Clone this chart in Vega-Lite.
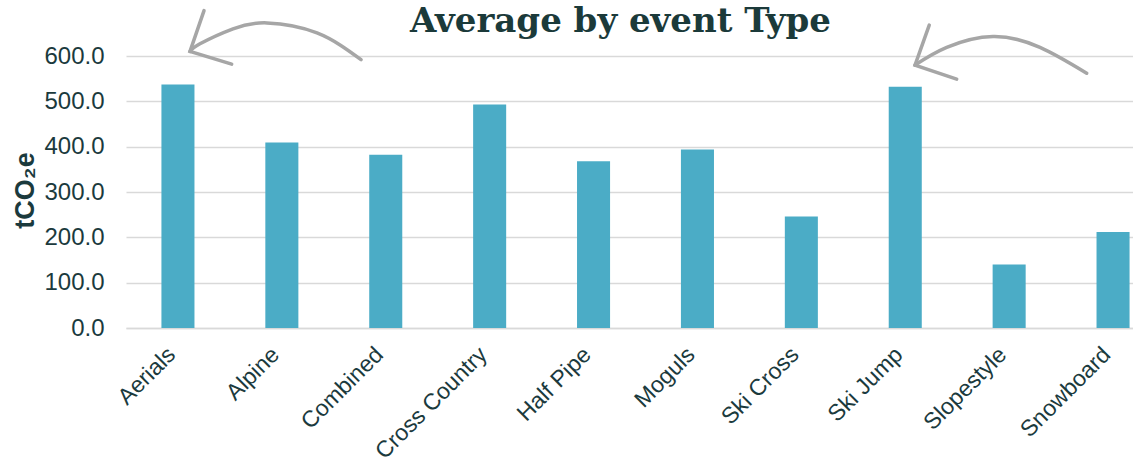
{
  "$schema": "https://vega.github.io/schema/vega-lite/v6.json",
  "width": 1039,
  "height": 272,
  "autosize": {"type": "none"},
  "padding": {"left": 126, "top": 56, "right": 0, "bottom": 135},
  "background": "white",
  "config": {
    "view": {"stroke": null},
    "font": "Liberation Sans"
  },
  "title": {
    "text": "Average by event Type",
    "font": "DejaVu Serif",
    "fontWeight": "bold",
    "fontSize": 34,
    "color": "#1b3a3a",
    "anchor": "middle",
    "dx": -25,
    "offset": -62,
    "baseline": "alphabetic"
  },
  "datasets": {
    "events": [
      {"event": "Aerials", "tco2e": 537},
      {"event": "Alpine", "tco2e": 409},
      {"event": "Combined", "tco2e": 382},
      {"event": "Cross Country", "tco2e": 493},
      {"event": "Half Pipe", "tco2e": 368},
      {"event": "Moguls", "tco2e": 394},
      {"event": "Ski Cross", "tco2e": 246},
      {"event": "Ski Jump", "tco2e": 532},
      {"event": "Slopestyle", "tco2e": 140},
      {"event": "Snowboard", "tco2e": 212}
    ],
    "curves": [
      {"arrow": "a1", "i": 0, "u": 0.616, "v": 610},
      {"arrow": "a1", "i": 1, "u": 0.712, "v": 627},
      {"arrow": "a1", "i": 2, "u": 1.030, "v": 660},
      {"arrow": "a1", "i": 3, "u": 1.357, "v": 673},
      {"arrow": "a1", "i": 4, "u": 1.838, "v": 651},
      {"arrow": "a1", "i": 5, "u": 2.262, "v": 592},
      {"arrow": "a2", "i": 0, "u": 7.594, "v": 580},
      {"arrow": "a2", "i": 1, "u": 7.899, "v": 619},
      {"arrow": "a2", "i": 2, "u": 8.345, "v": 643},
      {"arrow": "a2", "i": 3, "u": 8.797, "v": 619},
      {"arrow": "a2", "i": 4, "u": 9.246, "v": 562}
    ],
    "heads": [
      {"arrow": "a1", "i": 0, "u": 0.751, "v": 700},
      {"arrow": "a1", "i": 1, "u": 0.616, "v": 610},
      {"arrow": "a1", "i": 2, "u": 1.017, "v": 582},
      {"arrow": "a2", "i": 0, "u": 7.731, "v": 668},
      {"arrow": "a2", "i": 1, "u": 7.594, "v": 580},
      {"arrow": "a2", "i": 2, "u": 7.995, "v": 549}
    ]
  },
  "layer": [
    {
      "data": {"name": "events"},
      "mark": {"type": "bar", "color": "#4bacc6"},
      "encoding": {
        "x": {
          "field": "event",
          "type": "nominal",
          "sort": null,
          "scale": {"paddingInner": 0.682, "paddingOuter": 0.341},
          "axis": {
            "title": null,
            "labelAngle": -45,
            "labelFontSize": 23,
            "labelColor": "#1b3a3d",
            "labelPadding": 15,
            "labelOffset": -14,
            "ticks": false,
            "domain": true,
            "domainColor": "#d9d9d9",
            "domainWidth": 1.5,
            "grid": false
          }
        },
        "y": {
          "field": "tco2e",
          "type": "quantitative",
          "scale": {"domain": [0, 600], "nice": false},
          "axis": {
            "title": "tCO₂e",
            "titleFontSize": 27,
            "titleFontWeight": "bold",
            "titleColor": "#1b3a3d",
            "titleAngle": -90,
            "titleX": -101,
            "titleY": 134,
            "titleAlign": "center",
            "titleBaseline": "middle",
            "values": [0, 100, 200, 300, 400, 500, 600],
            "format": ".1f",
            "labelFontSize": 24,
            "labelColor": "#1b3a3d",
            "labelPadding": 22,
            "ticks": false,
            "domain": false,
            "grid": true,
            "gridColor": "#d9d9d9",
            "gridWidth": 1.5
          }
        }
      }
    },
    {
      "data": {"name": "curves"},
      "mark": {"type": "line", "interpolate": "natural", "color": "#a6a6a6", "strokeWidth": 3.5, "strokeCap": "round", "clip": false},
      "encoding": {
        "x": {"field": "u", "type": "quantitative", "scale": {"domain": [0, 10], "nice": false, "zero": false}, "axis": null},
        "y": {"field": "v", "type": "quantitative", "scale": {"domain": [0, 600], "nice": false}, "axis": null},
        "detail": {"field": "arrow"},
        "order": {"field": "i"}
      }
    },
    {
      "data": {"name": "heads"},
      "mark": {"type": "line", "color": "#a6a6a6", "strokeWidth": 3.5, "strokeCap": "round", "strokeJoin": "miter", "clip": false},
      "encoding": {
        "x": {"field": "u", "type": "quantitative", "scale": {"domain": [0, 10], "nice": false, "zero": false}, "axis": null},
        "y": {"field": "v", "type": "quantitative", "scale": {"domain": [0, 600], "nice": false}, "axis": null},
        "detail": {"field": "arrow"},
        "order": {"field": "i"}
      }
    }
  ],
  "resolve": {"scale": {"x": "independent", "y": "independent"}, "axis": {"x": "independent", "y": "independent"}}
}
